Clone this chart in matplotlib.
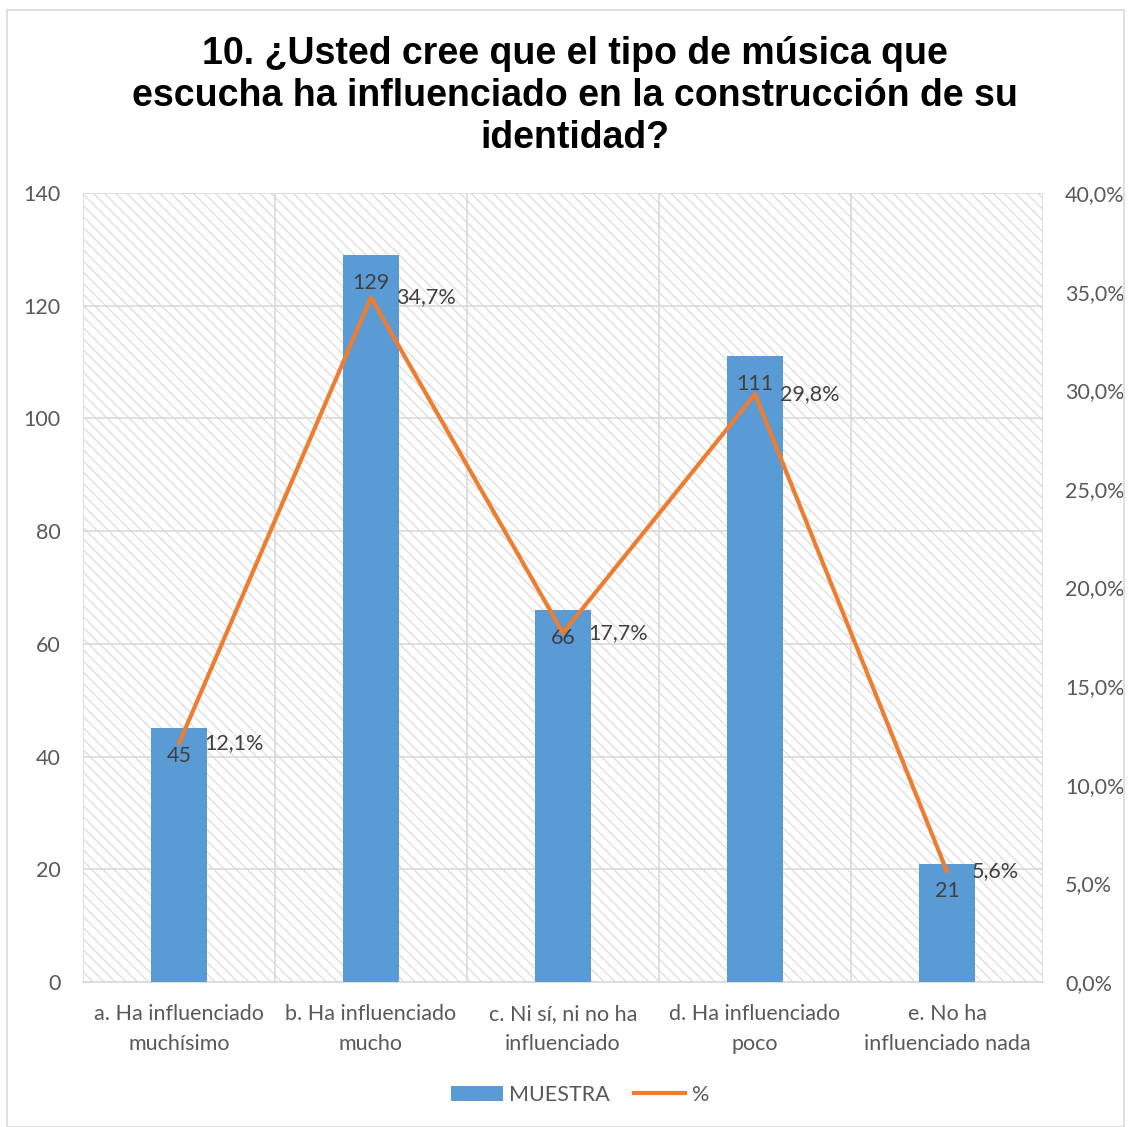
import matplotlib
matplotlib.use("Agg")
import matplotlib.pyplot as plt
from matplotlib.patches import Rectangle, Patch
from matplotlib.lines import Line2D
from matplotlib.ticker import FuncFormatter, MultipleLocator

categories = ["a. Ha influenciado\nmuchísimo", "b. Ha influenciado\nmucho",
              "c. Ni sí, ni no ha\ninfluenciado", "d. Ha influenciado\npoco",
              "e. No ha\ninfluenciado nada"]
muestra = [45, 129, 66, 111, 21]
pct = [12.1, 34.7, 17.7, 29.8, 5.6]
title = "10. ¿Usted cree que el tipo de música que\nescucha ha influenciado en la construcción de su\nidentidad?"

plt.rcParams['hatch.color'] = '#dcdcdc'
plt.rcParams['hatch.linewidth'] = 0.9
FONT = ['Lato', 'DejaVu Sans']
TXT = '#595959'
FS = 15.5

fig = plt.figure(figsize=(11.31, 11.27), dpi=100)
fig.patches.append(Rectangle((7/1131, 0), 1 - 14/1131, 1 - 10/1127, transform=fig.transFigure,
                             fill=False, edgecolor='#d9d9d9', linewidth=1.2))

ax = fig.add_axes([83/1131, 1 - 982/1127, 960/1131, 789/1127])
ax.patch.set_facecolor('white')
ax.patch.set_hatch('\\\\\\')
ax.patch.set_edgecolor('#dcdcdc')
ax.patch.set_linewidth(0)

x = list(range(len(categories)))
ax.bar(x, muestra, width=0.29, color='#5B9BD5', zorder=3)
ax.set_xlim(-0.5, len(categories) - 0.5)
ax.set_ylim(0, 140)
ax.yaxis.set_major_locator(MultipleLocator(20))
ax.set_xticks(x)
ax.set_xticklabels(categories, fontsize=FS, color=TXT, family=FONT, linespacing=1.6)
for t in ax.get_yticklabels():
    t.set_family(FONT)
ax.tick_params(axis='y', labelsize=FS, labelcolor=TXT, length=0, pad=16)
ax.tick_params(axis='x', length=0, pad=16)
for b in [-0.5, 0.5, 1.5, 2.5, 3.5, 4.5]:
    ax.axvline(b, color='#d9d9d9', lw=1.2, zorder=1)
ax.grid(axis='y', color='#d9d9d9', lw=1.2, zorder=1)
ax.set_axisbelow(True)
for s in ax.spines.values():
    s.set_visible(False)
ax.spines['bottom'].set_visible(True)
ax.spines['bottom'].set_color('#d9d9d9')
ax.spines['bottom'].set_linewidth(1.2)

ax2 = ax.twinx()
ax2.plot(x, [p / 100 for p in pct], color='#ED7D31', lw=3.0, zorder=5, solid_capstyle='round')
ax2.set_ylim(0, 0.40)
ax2.yaxis.set_major_locator(MultipleLocator(0.05))
ax2.yaxis.set_major_formatter(FuncFormatter(lambda v, p: f"{v*100:.1f}%".replace('.', ',')))
for t in ax2.get_yticklabels():
    t.set_family(FONT)
ax2.tick_params(axis='y', labelsize=FS, labelcolor=TXT, length=0, pad=16)
for s in ax2.spines.values():
    s.set_visible(False)

for i, v in enumerate(muestra):
    ax.annotate(str(v), (i, v), xytext=(0, -20), textcoords='offset points',
                ha='center', va='center', fontsize=FS, color='#404040', family=FONT, zorder=6)
for i, p in enumerate(pct):
    ax2.annotate(f"{p:.1f}%".replace('.', ','), (i, p / 100), xytext=(18, 0),
                 textcoords='offset points', ha='left', va='center', fontsize=FS,
                 color='#404040', family=FONT, zorder=6)

fig.text(0.508, 1 - 96/1127, title, ha='center', va='center', fontsize=27,
         fontweight='bold', family=['Liberation Sans', 'DejaVu Sans'], linespacing=1.2)

handles = [Patch(facecolor='#5B9BD5', label='MUESTRA'),
           Line2D([0], [0], color='#ED7D31', lw=3.0, label='%')]
fig.legend(handles=handles, loc='center', bbox_to_anchor=(0.513, 1 - 1095/1127), ncol=2,
           frameon=False, prop={'family': FONT, 'size': FS}, labelcolor=TXT,
           handlelength=2.4, handletextpad=0.3, columnspacing=1.1)

fig.savefig('out.png', dpi=100)
